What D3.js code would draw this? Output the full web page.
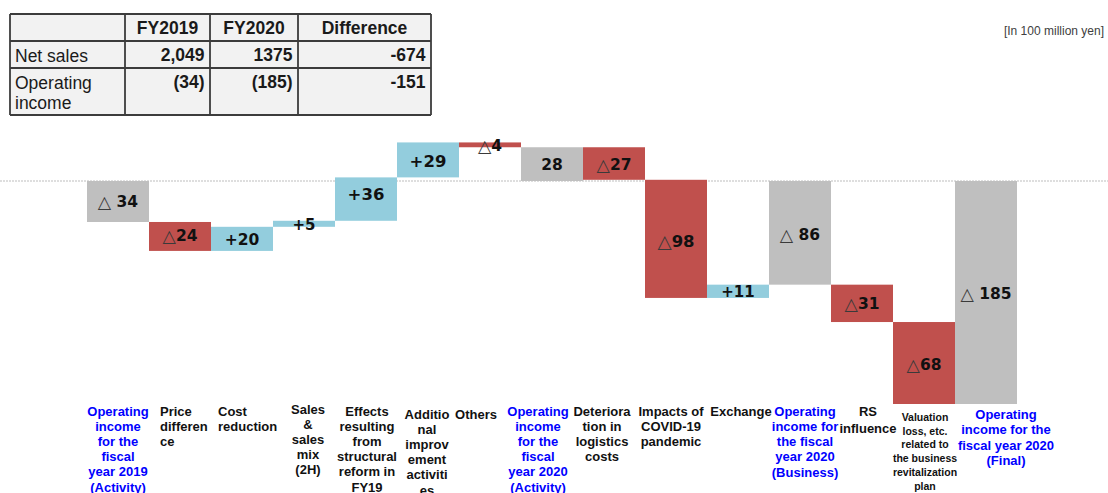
<!DOCTYPE html>
<html><head><meta charset="utf-8">
<script src="https://cdn.jsdelivr.net/npm/d3@7"></script>
<style>body{margin:0;background:#fff}svg{display:block}</style>
</head><body>
<svg id="c" width="1108" height="493"></svg>
<script>
// ---- data ----
const categories = [
  "Operating income for the fiscal year 2019 (Activity)", "Price difference", "Cost reduction",
  "Sales & sales mix (2H)", "Effects resulting from structural reform in FY19",
  "Additional improvement activities", "Others",
  "Operating income for the fiscal year 2020 (Activity)", "Deterioration in logistics costs",
  "Impacts of COVID-19 pandemic", "Exchange",
  "Operating income for the fiscal year 2020 (Business)", "RS influence",
  "Valuation loss, etc. related to the business revitalization plan",
  "Operating income for the fiscal year 2020 (Final)"
];
const categoryLines = [
  ["Operating","income","for the","fiscal","year 2019","(Activity)"],
  ["Price","differen","ce"],
  ["Cost","reduction"],
  ["Sales","&","sales","mix","(2H)"],
  ["Effects","resulting","from","structural","reform in","FY19"],
  ["Additio","nal","improv","ement","activiti","es"],
  ["Others"],
  ["Operating","income","for the","fiscal","year 2020","(Activity)"],
  ["Deteriora","tion in","logistics","costs"],
  ["Impacts of","COVID-19","pandemic"],
  ["Exchange"],
  ["Operating","income for","the fiscal","year 2020","(Business)"],
  ["RS","influence"],
  ["Valuation","loss, etc.","related to","the business","revitalization","plan"],
  ["Operating","income for the","fiscal year 2020","(Final)"]
];
const values = [-34, -24, 20, 5, 36, 29, -4, 28, -27, -98, 11, -86, -31, -68, -185];
const barTypes = ["total","delta","delta","delta","delta","delta","delta","total",
                  "delta","delta","delta","total","delta","delta","total"];

const tableHeader = ["", "FY2019", "FY2020", "Difference"];
const tableRowLabels = [["Net sales"], ["Operating", "income"]];
const tableValues = [["2,049", "1375", "-674"], ["(34)", "(185)", "-151"]];
const unitLabel = "[In 100 million yen]";

// ---- layout / style ----
const W = 1108, H = 493;
const svg = d3.select("#c");
const colors = {total: "#BFBFBF", pos: "#93CDDD", neg: "#C0504D"};
const blue = "#0000FF";

const x = d3.scaleBand().domain(d3.range(values.length)).range([87, 1017]).padding(0);
const y = d3.scaleLinear().domain([-185, 0]).range([404, 181]);

// per-category label layout: [dx from band centre or left, anchor, first line y, line height, font size]
const labelLayout = [
  [0, "middle", 411, 15.2, 13],
  [11, "start", 411, 15.2, 13],
  [7, "start", 411, 15.2, 13],
  [4, "middle", 409, 15.2, 13],
  [1, "middle", 411, 15.2, 13],
  [-1, "middle", 414, 15.2, 13],
  [-14, "middle", 414, 15.2, 13],
  [-14, "middle", 411, 15.2, 13],
  [-12, "middle", 411, 15.3, 13],
  [-5, "middle", 411, 15.2, 13],
  [3, "middle", 411, 15.2, 13],
  [5, "middle", 411, 15.3, 13],
  [6, "middle", 411, 17.5, 13],
  [1, "middle", 417, 13.7, 10.5],
  [20, "middle", 414, 15.6, 13]
];
const valueFont = [15.5, 15.5, 15.5, 15, 16.5, 16.5, 15.5, 15.5, 15.5, 16.5, 15, 15.5, 15.5, 15.5, 15.5];
const valueDy = [1, 0, 1, 1, -5, 1, 1, 1, 1, 2, 1, 2, 1, 2, 1];

// ---- baseline ----
svg.append("line").attr("x1", 0).attr("x2", W).attr("y1", y(0)).attr("y2", y(0))
  .attr("stroke", "#BDBDBD").attr("stroke-width", 1).attr("stroke-dasharray", "2,1");

// ---- waterfall ----
let run = 0;
const bars = values.map((v, i) => {
  if (barTypes[i] === "total") { run = v; return {i, v, y0: 0, y1: v, type: "total"}; }
  const s = run; run += v; return {i, v, y0: s, y1: run, type: "delta"};
});

svg.append("g").selectAll("rect").data(bars).join("rect")
  .attr("x", d => x(d.i))
  .attr("width", x.bandwidth())
  .attr("y", d => y(Math.max(d.y0, d.y1)))
  .attr("height", d => Math.abs(y(d.y0) - y(d.y1)))
  .attr("fill", d => d.type === "total" ? colors.total : (d.v >= 0 ? colors.pos : colors.neg));

const vl = svg.append("g").selectAll("text").data(bars).join("text")
  .attr("x", d => x(d.i) + x.bandwidth() / 2)
  .attr("y", d => (y(d.y0) + y(d.y1)) / 2 + valueDy[d.i])
  .attr("text-anchor", "middle")
  .attr("dominant-baseline", "central")
  .attr("font-family", "DejaVu Sans, Verdana, sans-serif")
  .attr("font-weight", "bold")
  .attr("font-size", d => valueFont[d.i])
  .attr("fill", "#111");
vl.each(function(d) {
  const t = d3.select(this);
  if (d.v < 0) {
    t.append("tspan").text("△").attr("font-weight", "normal").attr("fill", "#3a3a3a")
      .attr("font-size", valueFont[d.i] * 1.12);
    t.append("tspan").text((d.type === "total" ? " " : "") + Math.abs(d.v));
  } else {
    t.append("tspan").text((d.type === "total" ? "" : "+") + d.v);
  }
});

// ---- category labels ----
const cl = svg.append("g").selectAll("text").data(categoryLines).join("text")
  .attr("font-family", "Liberation Sans, Arial, sans-serif")
  .attr("font-weight", "bold")
  .attr("font-size", (d, i) => labelLayout[i][4])
  .attr("fill", (d, i) => barTypes[i] === "total" ? blue : "#111")
  .attr("text-anchor", (d, i) => labelLayout[i][1]);
cl.each(function(lines, i) {
  const L = labelLayout[i];
  const px = L[1] === "start" ? x(i) + L[0] : x(i) + x.bandwidth() / 2 + L[0];
  d3.select(this).selectAll("tspan").data(lines).join("tspan")
    .attr("x", px)
    .attr("y", (s, k) => L[2] + k * L[3])
    .attr("dominant-baseline", "central")
    .text(s => s);
});

// ---- table ----
const cx = [10, 125, 210, 298, 431];
const ry = [14, 41, 68, 115];
const tg = svg.append("g");
tg.append("rect").attr("x", cx[0]).attr("y", ry[0]).attr("width", cx[4] - cx[0]).attr("height", ry[3] - ry[0])
  .attr("fill", "#F2F2F2");
cx.forEach(v => tg.append("line").attr("x1", v).attr("x2", v).attr("y1", ry[0]).attr("y2", ry[3])
  .attr("stroke", "#3c3c3c").attr("stroke-width", 1.8));
ry.forEach(v => tg.append("line").attr("x1", cx[0]).attr("x2", cx[4]).attr("y1", v).attr("y2", v)
  .attr("stroke", "#3c3c3c").attr("stroke-width", 1.8));
const tfont = "Liberation Sans, Arial, sans-serif";
tableHeader.forEach((h, j) => {
  if (!h) return;
  tg.append("text").attr("x", (cx[j] + cx[j + 1]) / 2).attr("y", 28)
    .attr("text-anchor", "middle").attr("dominant-baseline", "central")
    .attr("font-family", tfont).attr("font-weight", "bold").attr("font-size", 17.5)
    .attr("fill", "#1a1a1a").text(h);
});
const rowY = [55, 82];
tableRowLabels.forEach((lines, r) => {
  lines.forEach((s, k) => {
    tg.append("text").attr("x", cx[0] + 5).attr("y", rowY[r] + 1 + k * 20)
      .attr("dominant-baseline", "central")
      .attr("font-family", tfont).attr("font-size", 17.5).attr("fill", "#1a1a1a").text(s);
  });
  tableValues[r].forEach((s, j) => {
    tg.append("text").attr("x", cx[j + 2] - 5.5).attr("y", rowY[r])
      .attr("text-anchor", "end").attr("dominant-baseline", "central")
      .attr("font-family", tfont).attr("font-weight", "bold").attr("font-size", 17.5)
      .attr("fill", "#1a1a1a").text(s);
  });
});

svg.append("text").attr("x", 1104).attr("y", 31).attr("text-anchor", "end")
  .attr("dominant-baseline", "central")
  .attr("font-family", tfont).attr("font-size", 12).attr("fill", "#404040").text(unitLabel);
</script>
</body></html>
